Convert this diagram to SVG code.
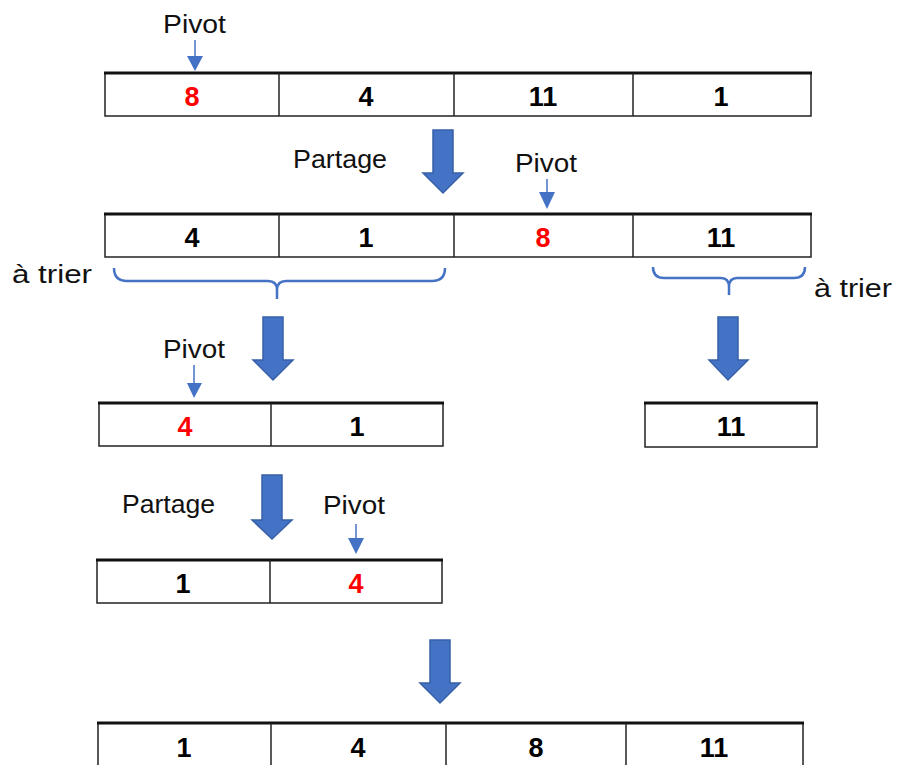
<svg xmlns="http://www.w3.org/2000/svg" width="899" height="765" viewBox="0 0 899 765">
<style>
.cell{fill:#fff;stroke:#222;stroke-width:1.5}
.top{stroke:#111;stroke-width:3}
.div{stroke:#222;stroke-width:1.5}
.num{font-family:"Liberation Sans",Arial,sans-serif;font-weight:bold;font-size:27px;text-anchor:middle;fill:#000}
.red{fill:#FF0000}
.lbl{font-family:"Liberation Sans",Arial,sans-serif;font-size:25px;fill:#111}
.big{fill:#4472C4;stroke:#3760A8;stroke-width:1.5}
.thin{stroke:#4472C4;stroke-width:1.5;fill:none}
.head{fill:#4472C4}
.brace{stroke:#4472C4;stroke-width:2.5;fill:none;stroke-linejoin:round}
</style>
<g id="row1">
<rect class="cell" x="105" y="73" width="706" height="43"/>
<line class="top" x1="104" y1="73" x2="812" y2="73"/>
<line class="div" x1="279" y1="73" x2="279" y2="116"/>
<line class="div" x1="454" y1="73" x2="454" y2="116"/>
<line class="div" x1="633" y1="73" x2="633" y2="116"/>
<text class="num red" x="192" y="106">8</text>
<text class="num" x="366" y="106">4</text>
<text class="num" x="543" y="106">11</text>
<text class="num" x="721" y="106">1</text>
</g>
<g id="row2">
<rect class="cell" x="105" y="214" width="706" height="43"/>
<line class="top" x1="104" y1="214" x2="812" y2="214"/>
<line class="div" x1="279" y1="214" x2="279" y2="257"/>
<line class="div" x1="454" y1="214" x2="454" y2="257"/>
<line class="div" x1="633" y1="214" x2="633" y2="257"/>
<text class="num" x="192" y="247">4</text>
<text class="num" x="366" y="247">1</text>
<text class="num red" x="543" y="247">8</text>
<text class="num" x="721" y="247">11</text>
</g>
<g id="row3left">
<rect class="cell" x="99" y="403" width="344" height="43"/>
<line class="top" x1="98" y1="403" x2="444" y2="403"/>
<line class="div" x1="271" y1="403" x2="271" y2="446"/>
<text class="num red" x="185" y="436">4</text>
<text class="num" x="357" y="436">1</text>
</g>
<g id="row3right">
<rect class="cell" x="645" y="403" width="172" height="44"/>
<line class="top" x1="644" y1="403" x2="818" y2="403"/>
<text class="num" x="731" y="436">11</text>
</g>
<g id="row4">
<rect class="cell" x="97" y="560" width="345" height="43"/>
<line class="top" x1="96" y1="560" x2="443" y2="560"/>
<line class="div" x1="270" y1="560" x2="270" y2="603"/>
<text class="num" x="183" y="593">1</text>
<text class="num red" x="356" y="593">4</text>
</g>
<g id="row5">
<rect class="cell" x="98" y="723" width="705" height="45"/>
<line class="top" x1="97" y1="723" x2="804" y2="723"/>
<line class="div" x1="271" y1="723" x2="271" y2="765"/>
<line class="div" x1="446" y1="723" x2="446" y2="765"/>
<line class="div" x1="626" y1="723" x2="626" y2="765"/>
<text class="num" x="184" y="757">1</text>
<text class="num" x="358" y="757">4</text>
<text class="num" x="536" y="757">8</text>
<text class="num" x="714" y="757">11</text>
</g>
<g id="labels">
<text class="lbl" x="163" y="33" textLength="63" lengthAdjust="spacingAndGlyphs">Pivot</text>
<text class="lbl" x="293" y="168" textLength="94" lengthAdjust="spacingAndGlyphs">Partage</text>
<text class="lbl" x="515" y="172" textLength="62" lengthAdjust="spacingAndGlyphs">Pivot</text>
<text class="lbl" x="12" y="283" textLength="80" lengthAdjust="spacingAndGlyphs">à trier</text>
<text class="lbl" x="814" y="297" textLength="78" lengthAdjust="spacingAndGlyphs">à trier</text>
<text class="lbl" x="163" y="358" textLength="62" lengthAdjust="spacingAndGlyphs">Pivot</text>
<text class="lbl" x="122" y="513" textLength="93" lengthAdjust="spacingAndGlyphs">Partage</text>
<text class="lbl" x="323" y="514" textLength="62" lengthAdjust="spacingAndGlyphs">Pivot</text>
</g>
<g id="connectors">
<line class="thin" x1="195" y1="40" x2="195" y2="58"/>
<polygon class="head" points="187,56 203,56 195,71"/>
<line class="thin" x1="547" y1="179" x2="547" y2="194"/>
<polygon class="head" points="539,192 555,192 547,209"/>
<line class="thin" x1="194" y1="365" x2="194" y2="384"/>
<polygon class="head" points="187,383 202,383 194,398"/>
<line class="thin" x1="356" y1="524" x2="356" y2="540"/>
<polygon class="head" points="348,538 364,538 356,554"/>
<polygon class="big" points="433,130 453,130 453,173 463,173 443,193 423,173 433,173"/>
<polygon class="big" points="263,317 283,317 283,360 293,360 273,380 253,360 263,360"/>
<polygon class="big" points="718,317 738,317 738,360 748,360 728,380 709,360 718,360"/>
<polygon class="big" points="262,475 282,475 282,520 292,520 272,539 252,520 262,520"/>
<polygon class="big" points="430,640 450,640 450,683 460,683 440,703 420,683 430,683"/>
<path class="brace" d="M114,268 Q114,281 127,281 L268,281 Q277,281 277,290 L277,299 M277,290 Q277,281 286,281 L432,281 Q445,281 445,268"/>
<path class="brace" d="M653,267 Q653,278 664,278 L721,278 Q729,278 729,287 L729,295 M729,287 Q729,278 737,278 L794,278 Q805,278 805,267"/>
</g>
</svg>
